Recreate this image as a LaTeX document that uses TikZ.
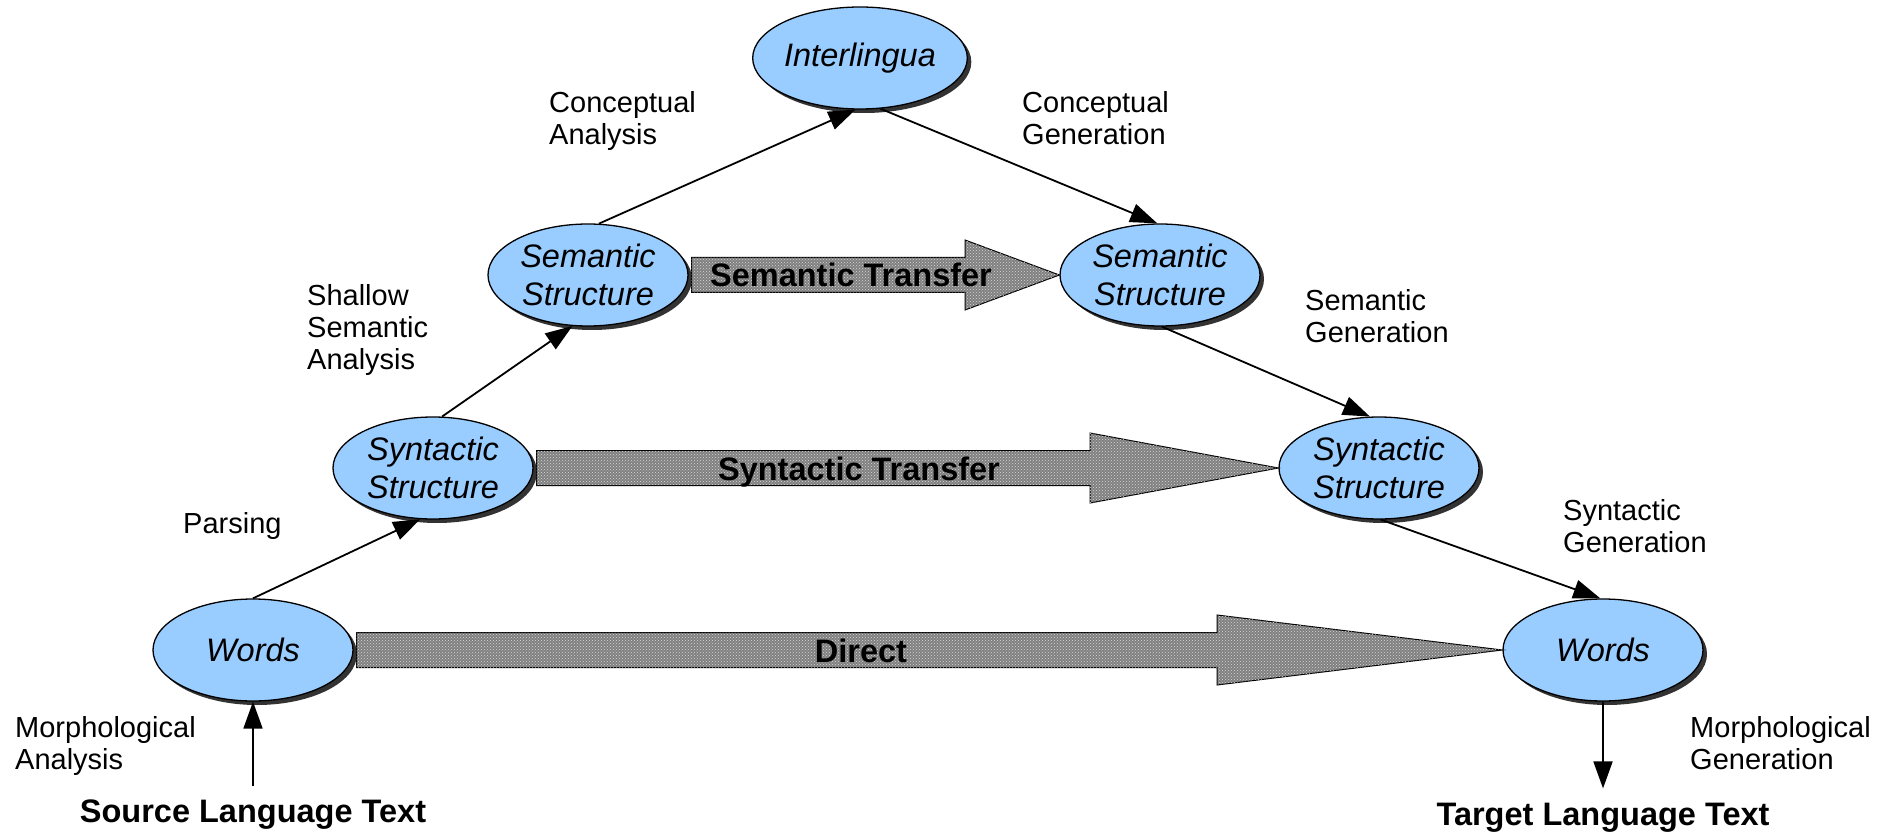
\documentclass[tikz,border=0pt]{standalone}
\usepackage{fontspec}
\setmainfont{Liberation Sans}
\usetikzlibrary{shapes.geometric,arrows.meta,shadows,patterns,calc}
\definecolor{ellblue}{RGB}{153,204,255}
\begin{document}
\begin{tikzpicture}[x=1pt,y=-1pt,
  ell/.style={ellipse, draw=black, line width=1.3pt, fill=ellblue,
    minimum width=200pt, minimum height=102pt, inner sep=0pt, align=center,
    font=\fontsize{32.5}{38}\selectfont\itshape,
    drop shadow={shadow xshift=4pt, shadow yshift=-4pt, fill=black!80, opacity=1}},
  lbl/.style={anchor=north west, inner sep=0pt, align=left, font=\fontsize{29}{32}\selectfont},
  big/.style={inner sep=0pt, font=\fontsize{32.5}{38}\selectfont\bfseries},
  conn/.style={line width=1.8pt, -{Triangle[length=27pt,width=19pt]}},
  blockarrow/.style={draw=black, line width=1pt, fill=black!50,
    postaction={pattern=crosshatch dots, pattern color=white!85!black}},
]
\useasboundingbox (0,0) rectangle (1879,834);

% ellipses
\node[ell, minimum width=198pt] (inter) at (860,58) {Interlingua};
\node[ell] (semL) at (588,275) {Semantic\\Structure};
\node[ell] (semR) at (1160,275) {Semantic\\Structure};
\node[ell] (synL) at (433,468) {Syntactic\\Structure};
\node[ell] (synR) at (1379,468) {Syntactic\\Structure};
\node[ell] (wordsL) at (253,650) {Words};
\node[ell] (wordsR) at (1603,650) {Words};

% block arrows
\draw[blockarrow] let \p1=(semL.east), \p2=(semR.west) in
  (\x1+3pt,\y1+17.5pt) -- (965pt,\y1+17.5pt) -- (965pt,\y1+35pt) -- (\x2,\y2)
  -- (965pt,\y1-35pt) -- (965pt,\y1-17.5pt) -- (\x1+3pt,\y1-17.5pt) -- cycle;
\draw[blockarrow] let \p1=(synL.east), \p2=(synR.west) in
  (\x1+3pt,\y1+17.5pt) -- (1090pt,\y1+17.5pt) -- (1090pt,\y1+35pt) -- (\x2,\y2)
  -- (1090pt,\y1-35pt) -- (1090pt,\y1-17.5pt) -- (\x1+3pt,\y1-17.5pt) -- cycle;
\draw[blockarrow] let \p1=(wordsL.east), \p2=(wordsR.west) in
  (\x1+3pt,\y1+17.5pt) -- (1217pt,\y1+17.5pt) -- (1217pt,\y1+35pt) -- (\x2,\y2)
  -- (1217pt,\y1-35pt) -- (1217pt,\y1-17.5pt) -- (\x1+3pt,\y1-17.5pt) -- cycle;

\node[big, anchor=base] (tsem) at (851,287) {Semantic Transfer};
\node[big, anchor=base] (tsyn) at (859,480) {Syntactic Transfer};
\node[big, anchor=base] (tdir) at (861,662) {Direct};

% connectors
\draw[conn] (wordsL.90) -- (synL.256);
\draw[conn] (synL.80) -- (semL.253);
\draw[conn] (semL.78) -- (inter.265);
\draw[conn] (inter.292) -- (semR.93);
\draw[conn] (semR.272) -- (synR.100);
\draw[conn] (synR.272) -- (wordsR.93);

% source / target
\node[big, anchor=base] (src) at (253,822) {Source Language Text};
\node[big, anchor=base] (tgt) at (1603,825) {Target Language Text};
\draw[conn, shorten <=13pt] (src.north) -- (wordsL.south);
\draw[conn, shorten >=14pt] (wordsR.south) -- (tgt.north);

% labels
\node[lbl] (lca) at (549,91) {Conceptual\\Analysis};
\node[lbl] (lcg) at (1022,91) {Conceptual\\Generation};
\node[lbl] (lssa) at (307,284) {Shallow\\Semantic\\Analysis};
\node[lbl] (lpar) at (183,512) {Parsing};
\node[lbl] (lsg) at (1305,289) {Semantic\\Generation};
\node[lbl] (lsyg) at (1563,499) {Syntactic\\Generation};
\node[lbl] (lma) at (15,716) {Morphological\\Analysis};
\node[lbl] (lmg) at (1690,716) {Morphological\\Generation};
\end{tikzpicture}
\end{document}
